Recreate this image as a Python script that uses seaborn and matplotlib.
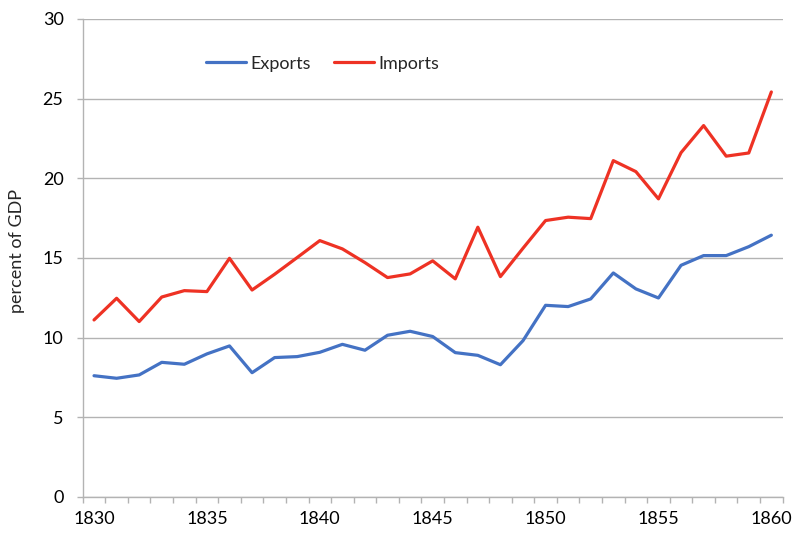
import matplotlib
matplotlib.use("Agg")
import matplotlib.pyplot as plt
import seaborn as sns
import pandas as pd
import numpy as np
from matplotlib.ticker import MultipleLocator, FixedLocator

years = list(range(1830, 1861))
exports = [7.61, 7.45, 7.66, 8.45, 8.33, 8.98, 9.48, 7.80, 8.75, 8.81,
           9.08, 9.58, 9.21, 10.15, 10.40, 10.07, 9.06, 8.89, 8.30, 9.81,
           12.03, 11.95, 12.43, 14.06, 13.06, 12.49, 14.54, 15.15, 15.15, 15.71,
           16.43]
imports = [11.11, 12.47, 11.01, 12.55, 12.95, 12.89, 14.98, 12.99, 13.98, 15.03,
           16.09, 15.57, 14.71, 13.77, 14.00, 14.82, 13.69, 16.93, 13.83, 15.61,
           17.35, 17.56, 17.47, 21.11, 20.42, 18.71, 21.61, 23.31, 21.39, 21.59,
           25.42]
series_names = ["Exports", "Imports"]
colors = ["#4472C4", "#EE3224"]

df = pd.DataFrame({
    "year": years * 2,
    "value": exports + imports,
    "series": [series_names[0]] * len(years) + [series_names[1]] * len(years),
})

sns.set_theme(style="white")
plt.rcParams["font.family"] = ["Lato", "DejaVu Sans"]

fig = plt.figure(figsize=(8.08, 5.5), dpi=100)
ax = fig.add_axes([0.1024, 0.0964, 0.8662, 0.8691])

sns.lineplot(data=df, x="year", y="value", hue="series",
             palette=dict(zip(series_names, colors)), linewidth=2.3, ax=ax)

ax.set_xlim(1829.5, 1860.5)
ax.set_ylim(0, 30)
ax.yaxis.set_major_locator(MultipleLocator(5))
ax.xaxis.set_major_locator(FixedLocator(list(range(1830, 1861, 5))))
ax.xaxis.set_minor_locator(FixedLocator([y - 0.5 for y in years] + [1860.5]))
ax.grid(axis="y", color="#B3B3B3", linewidth=1)
ax.set_axisbelow(True)
for s in ["top", "right"]:
    ax.spines[s].set_visible(False)
for s in ["left", "bottom"]:
    ax.spines[s].set_color("#B3B3B3")
    ax.spines[s].set_linewidth(1)
ax.tick_params(axis="x", which="major", length=0, pad=10, labelsize=13, colors="black")
ax.tick_params(axis="x", which="minor", bottom=True, length=4.3, width=1, color="#B3B3B3")
ax.tick_params(axis="y", which="major", left=True, length=4.3, width=1, color="#B3B3B3",
               labelsize=13, labelcolor="black", pad=9.5)
ax.set_xlabel("")
ax.set_ylabel("percent of GDP", fontsize=13)
ax.yaxis.set_label_coords(-0.082, 0.515)

ax.legend(loc="center", bbox_to_anchor=(0.3426, 0.9067), ncol=2, frameon=False,
          fontsize=13, handlelength=2.2, columnspacing=1.28, handletextpad=0.25)

fig.savefig("out.png", dpi=100)
